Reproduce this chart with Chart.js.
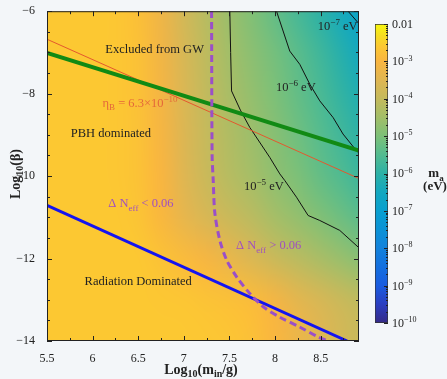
<!DOCTYPE html>
<html>
<head>
<meta charset="utf-8">
<script src="https://cdn.jsdelivr.net/npm/chart.js@4.4.1/dist/chart.umd.min.js"></script>
<style>
  html, body { margin: 0; padding: 0; background: #f3f6f9; }
  #wrap { position: relative; width: 447px; height: 379px; }
  #main { position: absolute; left: 0; top: 0; }
  #cbar { position: absolute; left: 360px; top: 0; }
</style>
</head>
<body>
<div id="wrap">
  <canvas id="main" width="447" height="379"></canvas>
  <canvas id="cbar" width="87" height="379"></canvas>
</div>
<script>
// ---- data ----
// background field: log10(m_a / eV) sampled on a grid
const xGrid = [5.5, 5.75, 6.0, 6.25, 6.5, 6.75, 7.0, 7.25, 7.5, 7.75, 8.0, 8.25, 8.5, 8.75, 9.0];
const yGrid = [-6, -7, -8, -9, -10, -11, -12, -13, -14];
const logMaGrid = [
  [-2.6, -2.6, -2.6, -2.62, -2.78, -3.2, -3.75, -4.2, -4.6, -4.95, -5.3, -5.65, -6.0, -6.45, -6.9],
  [-2.6, -2.6, -2.6, -2.62, -2.75, -3.15, -3.65, -4.1, -4.5, -4.8, -5.1, -5.4, -5.75, -6.15, -6.6],
  [-2.6, -2.6, -2.6, -2.62, -2.74, -3.1, -3.6, -4.05, -4.4, -4.7, -5.0, -5.3, -5.6, -5.95, -6.3],
  [-2.6, -2.6, -2.6, -2.62, -2.73, -3.05, -3.55, -3.98, -4.3, -4.58, -4.85, -5.15, -5.45, -5.75, -6.05],
  [-2.6, -2.6, -2.6, -2.62, -2.72, -3.0, -3.5, -3.9, -4.2, -4.45, -4.75, -5.0, -5.3, -5.55, -5.85],
  [-2.6, -2.6, -2.6, -2.6, -2.68, -2.95, -3.35, -3.65, -3.9, -4.15, -4.45, -4.7, -4.95, -5.2, -5.45],
  [-2.6, -2.6, -2.6, -2.6, -2.6, -2.72, -2.88, -3.05, -3.3, -3.6, -3.9, -4.15, -4.4, -4.65, -4.9],
  [-2.6, -2.6, -2.6, -2.6, -2.6, -2.62, -2.65, -2.7, -2.76, -2.86, -3.1, -3.4, -3.65, -3.9, -4.1],
  [-2.6, -2.6, -2.6, -2.6, -2.6, -2.6, -2.6, -2.62, -2.66, -2.76, -2.98, -3.25, -3.5, -3.75, -3.95]
];

// contours of m_a
const c5X = [7.504, 7.513, 7.523, 7.62, 7.723, 7.942, 8.052, 8.107, 8.235, 8.362, 8.49, 8.709, 8.92];
const c5Y = [-6.0, -7.0, -7.934, -8.4, -8.82, -9.546, -9.947, -10.109, -10.512, -10.955, -11.076, -11.317, -11.74];
const c6X = [8.016, 8.161, 8.271, 8.381, 8.49, 8.636, 8.745, 8.892, 8.92];
const c6Y = [-6.0, -6.967, -7.289, -7.772, -8.175, -8.579, -8.98, -9.384, -9.44];
const c7X = [8.80, 8.91, 8.92];
const c7Y = [-6.0, -6.28, -6.31];

// bounds
const gwBoundX = [5.5, 8.92];
const gwBoundY = [-7.01, -9.38];
const etaBX = [5.5, 8.92];
const etaBY = [-6.68, -10.06];
const radBoundX = [5.5, 8.79];
const radBoundY = [-10.71, -14.0];
const nEffX = [7.304, 7.31, 7.322, 7.34, 7.395, 7.47, 7.58, 7.72, 7.87, 8.05, 8.27, 8.47, 8.58];
const nEffY = [-6.0, -9.5, -10.1, -10.9, -11.56, -12.04, -12.45, -12.84, -13.17, -13.42, -13.66, -13.9, -14.0];

// colour bar decades
const cbDecades = [-2, -3, -4, -5, -6, -7, -8, -9, -10];

// colormap (parula-like, as seen on the colour bar)
const cmapValues = [-10, -9.5, -9, -8.5, -8, -7.5, -7, -6.5, -6, -5.5, -5, -4.5, -4, -3.5, -3, -2.6, -2.3, -2];
const cmapColors = ['#352a87', '#2b3ec0', '#1a5ce0', '#136fdf', '#1282dc', '#0a92d6', '#089fcf', '#12a8c0',
  '#2cb1a6', '#52bb90', '#7cc078', '#a2be68', '#c4ba5c', '#dfb652', '#f9b540', '#fcc832', '#f5de22', '#f8f80e'];

const SERIF = "'Liberation Serif', 'Times New Roman', serif";
const INK = '#222';

const hexRgb = h => [1, 3, 5].map(i => parseInt(h.slice(i, i + 2), 16));
const cmapRgb = cmapColors.map(hexRgb);

function cmap(v) {
  if (v <= cmapValues[0]) return cmapRgb[0];
  const n = cmapValues.length;
  if (v >= cmapValues[n - 1]) return cmapRgb[n - 1];
  let i = 0;
  while (cmapValues[i + 1] < v) i++;
  const t = (v - cmapValues[i]) / (cmapValues[i + 1] - cmapValues[i]);
  return cmapRgb[i].map((c, k) => Math.round(c + (cmapRgb[i + 1][k] - c) * t));
}

// text with sub/superscripts: parts = [[text, ''|'sub'|'sup'], ...]
function drawRich(ctx, parts, x, y, size, color, bold, align) {
  const font = kind => `${bold ? 'bold ' : ''}${kind ? Math.round(size * 0.68) : size}px ${SERIF}`;
  ctx.save();
  ctx.fillStyle = color;
  ctx.textBaseline = 'alphabetic';
  ctx.textAlign = 'left';
  let total = 0;
  parts.forEach(p => { ctx.font = font(p[1]); total += ctx.measureText(p[0]).width; });
  let cx = align === 'left' ? x : x - total / 2;
  const base = y + size * 0.33;
  parts.forEach(p => {
    ctx.font = font(p[1]);
    const dy = p[1] === 'sub' ? size * 0.25 : p[1] === 'sup' ? -size * 0.4 : 0;
    ctx.fillText(p[0], cx, base + dy);
    cx += ctx.measureText(p[0]).width;
  });
  ctx.restore();
}

const plotLabels = [
  { x: 6.68, y: -6.92, parts: [['Excluded from GW', '']], color: INK },
  { x: 6.52, y: -8.22, parts: [['η', ''], ['B', 'sub'], [' = 6.3×10', ''], ['−10', 'sup']], color: '#e4683a' },
  { x: 6.20, y: -8.95, parts: [['PBH dominated', '']], color: INK },
  { x: 8.687, y: -6.36, parts: [['10', ''], ['−7', 'sup'], [' eV', '']], color: INK },
  { x: 8.227, y: -7.84, parts: [['10', ''], ['−6', 'sup'], [' eV', '']], color: INK },
  { x: 7.877, y: -10.23, parts: [['10', ''], ['−5', 'sup'], [' eV', '']], color: INK },
  { x: 6.53, y: -10.66, parts: [['Δ N', ''], ['eff', 'sub'], [' < 0.06', '']], color: '#a050c0' },
  { x: 7.93, y: -11.68, parts: [['Δ N', ''], ['eff', 'sub'], [' > 0.06', '']], color: '#a050c0' },
  { x: 6.50, y: -12.55, parts: [['Radiation Dominated', '']], color: INK }
];

const heatmap = {
  id: 'heatmap',
  beforeDatasetsDraw(chart) {
    const { ctx, chartArea, scales: { x, y } } = chart;
    const off = document.createElement('canvas');
    off.width = xGrid.length;
    off.height = yGrid.length;
    const octx = off.getContext('2d');
    const img = octx.createImageData(off.width, off.height);
    logMaGrid.forEach((row, j) => row.forEach((v, i) => {
      const c = cmap(v), k = (j * off.width + i) * 4;
      img.data[k] = c[0]; img.data[k + 1] = c[1]; img.data[k + 2] = c[2]; img.data[k + 3] = 255;
    }));
    octx.putImageData(img, 0, 0);
    const dx = (xGrid[1] - xGrid[0]) / 2, dy = (yGrid[0] - yGrid[1]) / 2;
    const x0 = x.getPixelForValue(xGrid[0] - dx), x1 = x.getPixelForValue(xGrid[xGrid.length - 1] + dx);
    const y0 = y.getPixelForValue(yGrid[0] + dy), y1 = y.getPixelForValue(yGrid[yGrid.length - 1] - dy);
    ctx.save();
    ctx.beginPath();
    ctx.rect(chartArea.left, chartArea.top, chartArea.width, chartArea.height);
    ctx.clip();
    ctx.imageSmoothingEnabled = true;
    ctx.imageSmoothingQuality = 'high';
    ctx.drawImage(off, x0, y0, x1 - x0, y1 - y0);
    ctx.restore();
  }
};

const annotations = {
  id: 'annotations',
  afterDatasetsDraw(chart) {
    const { ctx, scales: { x, y } } = chart;
    plotLabels.forEach(l => drawRich(ctx, l.parts, x.getPixelForValue(l.x), y.getPixelForValue(l.y), 12.5, l.color, false));
  },
  afterDraw(chart) {
    const { ctx, chartArea: a, scales: { x, y } } = chart;
    ctx.save();
    ctx.strokeStyle = INK;
    ctx.lineWidth = 1;
    ctx.strokeRect(a.left + 0.5, a.top + 0.5, a.width - 1, a.height - 1);
    ctx.beginPath();
    for (let v = x.min; v <= x.max + 1e-9; v += 0.25) {
      const px = Math.round(x.getPixelForValue(v)) + 0.5;
      const len = Math.abs(v * 2 - Math.round(v * 2)) < 1e-6 ? 5 : 3;
      ctx.moveTo(px, a.bottom); ctx.lineTo(px, a.bottom - len);
      ctx.moveTo(px, a.top); ctx.lineTo(px, a.top + len);
    }
    for (let v = y.min; v <= y.max + 1e-9; v += 0.5) {
      const py = Math.round(y.getPixelForValue(v)) + 0.5;
      const len = Math.abs(v / 2 - Math.round(v / 2)) < 1e-6 ? 5 : 3;
      ctx.moveTo(a.left, py); ctx.lineTo(a.left + len, py);
      ctx.moveTo(a.right, py); ctx.lineTo(a.right - len, py);
    }
    ctx.stroke();
    ctx.restore();

    // axis titles
    drawRich(ctx, [['Log', ''], ['10', 'sub'], ['(m', ''], ['in', 'sub'], ['/g)', '']],
      (a.left + a.right) / 2 - 2, chart.height - 10, 14, INK, true);
    ctx.save();
    ctx.translate(15, (a.top + a.bottom) / 2 - 2);
    ctx.rotate(-Math.PI / 2);
    drawRich(ctx, [['Log', ''], ['10', 'sub'], ['(β)', '']], 0, 0, 14, INK, true);
    ctx.restore();
  }
};

const line = (label, xs, ys, color, width, extra) => Object.assign({
  label,
  data: xs.map((v, i) => ({ x: v, y: ys[i] })),
  borderColor: color,
  borderWidth: width,
  pointRadius: 0,
  showLine: true,
  fill: false,
  tension: 0
}, extra || {});

new Chart(document.getElementById('main'), {
  type: 'scatter',
  data: {
    datasets: [
      line('1e-5 eV', c5X, c5Y, '#111', 1, { order: 5 }),
      line('1e-6 eV', c6X, c6Y, '#111', 1, { order: 5 }),
      line('1e-7 eV', c7X, c7Y, '#111', 1, { order: 5 }),
      line('eta_B', etaBX, etaBY, '#e4582e', 1, { order: 4 }),
      line('GW bound', gwBoundX, gwBoundY, '#118a14', 4, { order: 3 }),
      line('radiation', radBoundX, radBoundY, '#1414f0', 3, { order: 2 }),
      line('N_eff', nEffX, nEffY, '#9a4fc8', 3, { order: 1, borderDash: [7, 4], tension: 0.3 })
    ]
  },
  options: {
    responsive: false,
    animation: false,
    events: [],
    layout: { padding: { top: 10, right: 88, bottom: 0, left: 0 } },
    plugins: { legend: { display: false }, tooltip: { enabled: false } },
    scales: {
      x: {
        type: 'linear', min: 5.5, max: 8.92,
        grid: { display: false }, border: { display: false },
        ticks: {
          stepSize: 0.5, includeBounds: false, padding: 3, color: INK,
          font: { family: SERIF, size: 12 },
          callback: v => String(+v.toFixed(2))
        },
        afterFit: s => { s.height = 38; }
      },
      y: {
        type: 'linear', min: -14, max: -6,
        grid: { display: false }, border: { display: false },
        ticks: {
          stepSize: 2, padding: 4, color: INK,
          font: { family: SERIF, size: 12 },
          callback: v => (v < 0 ? '−' : '') + Math.abs(v)
        },
        afterFit: s => { s.width = 47; }
      }
    }
  },
  plugins: [heatmap, annotations]
});

// ---- colour bar ----
const cbarDecor = {
  id: 'cbarDecor',
  afterDraw(chart) {
    const { ctx, chartArea: a, scales: { y } } = chart;
    ctx.save();
    ctx.strokeStyle = INK;
    ctx.lineWidth = 1;
    ctx.beginPath();
    cbDecades.forEach(d => {
      const py = Math.round(y.getPixelForValue(d)) + 0.5;
      ctx.moveTo(a.right, py); ctx.lineTo(a.right - 4, py);
      if (d > -10) {
        for (let k = 2; k <= 9; k++) {
          const pm = Math.round(y.getPixelForValue(d - 1 + Math.log10(k))) + 0.5;
          ctx.moveTo(a.right, pm); ctx.lineTo(a.right - 2, pm);
        }
      }
    });
    ctx.stroke();
    ctx.restore();
    cbDecades.forEach(d => {
      const parts = d === -2 ? [['0.01', '']] : [['10', ''], ['−' + (-d), 'sup']];
      drawRich(ctx, parts, a.right + 4, y.getPixelForValue(d), 12, INK, false, 'left');
    });
    drawRich(ctx, [['m', ''], ['a', 'sub']], 76, 173, 13, INK, true);
    drawRich(ctx, [['(eV)', '']], 75, 186, 13, INK, true);
  }
};

new Chart(document.getElementById('cbar'), {
  type: 'bar',
  data: {
    labels: ['m_a'],
    datasets: [{
      data: [[-10, -2]],
      backgroundColor: c => {
        const chart = c.chart;
        if (!chart.chartArea) return '#888';
        const y = chart.scales.y;
        const g = chart.ctx.createLinearGradient(0, y.getPixelForValue(-10), 0, y.getPixelForValue(-2));
        cmapValues.forEach((v, i) => g.addColorStop((v + 10) / 8, cmapColors[i]));
        return g;
      },
      borderColor: '#333',
      borderWidth: 1,
      borderSkipped: false,
      barPercentage: 1,
      categoryPercentage: 1
    }]
  },
  options: {
    responsive: false,
    animation: false,
    events: [],
    layout: { padding: { left: 15, right: 59, top: 24, bottom: 56 } },
    plugins: { legend: { display: false }, tooltip: { enabled: false } },
    scales: {
      x: { display: false },
      y: { display: false, min: -10, max: -2 }
    }
  },
  plugins: [cbarDecor]
});
</script>
</body>
</html>
